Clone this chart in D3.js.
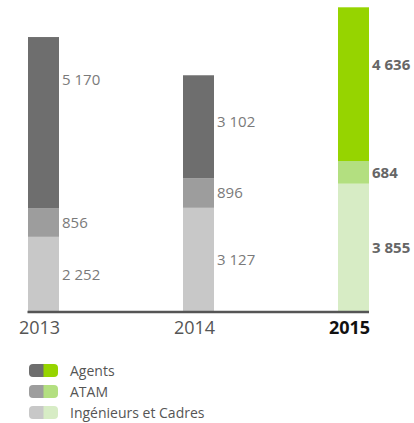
<!DOCTYPE html>
<html>
<head>
<meta charset="utf-8">
<script src="https://cdn.jsdelivr.net/npm/d3@7"></script>
<style>
  html, body { margin: 0; padding: 0; background: #fff; }
  svg { display: block; font-family: "Open Sans", "Noto Sans", sans-serif; }
</style>
</head>
<body>
<svg id="chart" width="414" height="423"></svg>
<script>
// Staff by category, per year
const years = ["2013", "2014", "2015"];
const categories = ["Ingénieurs et Cadres", "ATAM", "Agents"];
const ingenieurs = [2252, 3127, 3855];
const atam = [856, 896, 684];
const agents = [5170, 3102, 4636];
const valueLabels = {
  "Agents": ["5 170", "3 102", "4 636"],
  "ATAM": ["856", "896", "684"],
  "Ingénieurs et Cadres": ["2 252", "3 127", "3 855"]
};
const legendOrder = ["Agents", "ATAM", "Ingénieurs et Cadres"];

// Palettes: past years in greys, current year in greens
const greyColors = { "Agents": "#6e6e6e", "ATAM": "#9d9d9d", "Ingénieurs et Cadres": "#c8c8c8" };
const greenColors = { "Agents": "#96d400", "ATAM": "#b3df80", "Ingénieurs et Cadres": "#d7ecc5" };
const highlightYear = "2015";
// where the Agents label sits inside its segment (0 = top, 1 = bottom)
const agentsLabelAnchor = [0.25, 0.45, 0.375];

const rows = years.map((y, i) => ({
  year: y,
  "Ingénieurs et Cadres": ingenieurs[i],
  "ATAM": atam[i],
  "Agents": agents[i]
}));

const svg = d3.select("#chart");
const baseY = 311.5, topY = 7.3;

const x = d3.scaleBand().domain(years).range([28, 369]).paddingInner(0.8).paddingOuter(0);
const maxTotal = d3.max(rows, r => categories.reduce((s, c) => s + r[c], 0));
const y = d3.scaleLinear().domain([0, maxTotal]).range([baseY, topY]);

const stacked = d3.stack().keys(categories)(rows);

const g = svg.append("g");
stacked.forEach(layer => {
  const key = layer.key;
  g.selectAll(null)
    .data(layer)
    .join("rect")
    .attr("x", d => x(d.data.year))
    .attr("width", x.bandwidth())
    .attr("y", d => y(d[1]))
    .attr("height", d => y(d[0]) - y(d[1]))
    .attr("fill", d => d.data.year === highlightYear ? greenColors[key] : greyColors[key]);

  g.selectAll(null)
    .data(layer)
    .join("text")
    .attr("x", d => x(d.data.year) + x.bandwidth() + 3)
    .attr("y", (d, i) => {
      const frac = key === "Agents" ? agentsLabelAnchor[i] : 0.5;
      return y(d[1] - (d[1] - d[0]) * frac);
    })
    .attr("dy", "0.36em")
    .attr("font-size", 15)
    .attr("font-weight", d => d.data.year === highlightYear ? 700 : 400)
    .attr("fill", d => d.data.year === highlightYear ? "#666" : "#7a7a7a")
    .text((d, i) => valueLabels[key][i]);
});

// Baseline
svg.append("line")
  .attr("x1", x(years[0]) - 0.5)
  .attr("x2", x(years[years.length - 1]) + x.bandwidth())
  .attr("y1", baseY + 0.5).attr("y2", baseY + 0.5)
  .attr("stroke", "#555").attr("stroke-width", 2.4);

// Year axis labels
const axis = d3.axisBottom(x).tickSize(0).tickPadding(0);
const ax = svg.append("g").attr("transform", `translate(-4,${baseY + 6})`).call(axis);
ax.select(".domain").remove();
ax.selectAll("text")
  .attr("dy", "0.9em")
  .attr("font-size", 18)
  .attr("font-family", "\"Open Sans\", sans-serif")
  .attr("font-weight", d => d === highlightYear ? 700 : 400)
  .attr("fill", d => d === highlightYear ? "#111" : "#555");

// Legend with split grey/green swatches
const legend = svg.append("g").attr("transform", "translate(29,364)");
legendOrder.forEach((c, i) => {
  const row = legend.append("g").attr("transform", `translate(0,${i * 21})`);
  const clipId = "clip" + i;
  row.append("clipPath").attr("id", clipId)
    .append("rect").attr("width", 29).attr("height", 13).attr("rx", 4);
  const sw = row.append("g").attr("clip-path", `url(#${clipId})`);
  sw.append("rect").attr("width", 15).attr("height", 13).attr("fill", greyColors[c]);
  sw.append("rect").attr("x", 14.5).attr("width", 14.5).attr("height", 13).attr("fill", greenColors[c]);
  row.append("text")
    .attr("x", 41).attr("y", 6.5).attr("dy", "0.36em")
    .attr("font-size", 14).attr("fill", "#555")
    .text(c);
});
</script>
</body>
</html>
